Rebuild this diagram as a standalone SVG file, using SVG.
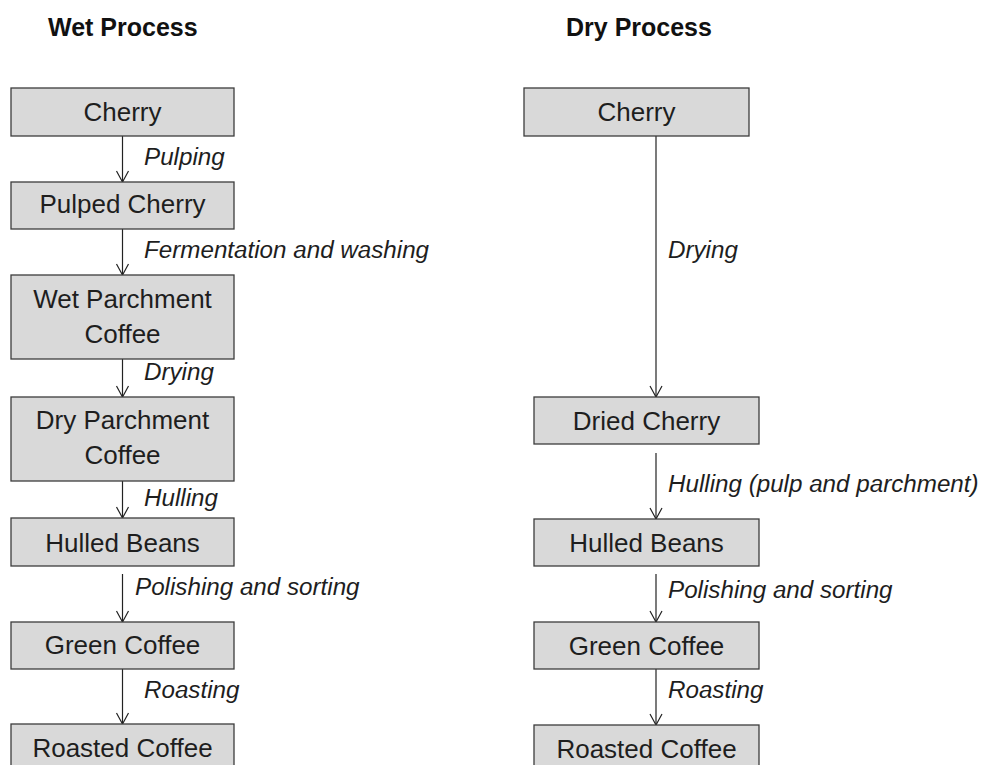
<svg xmlns="http://www.w3.org/2000/svg" width="985" height="765" viewBox="0 0 985 765">
<style>
.box{fill:#d9d9d9;stroke:#3c3c3c;stroke-width:1.3}
.t{font-family:"Liberation Sans",Arial,sans-serif;font-size:26px;fill:#1e1e1e;text-anchor:middle}
.lbl{font-family:"Liberation Sans",Arial,sans-serif;font-size:24.2px;font-style:italic;fill:#1e1e1e}
.title{font-family:"Liberation Sans",Arial,sans-serif;font-size:25px;font-weight:bold;fill:#111}
.c{stroke:#222;stroke-width:1.2;fill:none;marker-end:url(#v)}
</style>
<defs>
<marker id="v" markerUnits="userSpaceOnUse" markerWidth="14" markerHeight="16" viewBox="-12 -8 14 16" refX="0" refY="0" orient="auto">
<path d="M-11,-6 L0,0 L-11,6" fill="none" stroke="#222" stroke-width="1.2"/>
</marker>
</defs>
<rect width="985" height="765" fill="#fff"/>
<text class="title" x="48" y="36">Wet Process</text>
<text class="title" x="566" y="36">Dry Process</text>

<g id="connectors">
<line class="c" x1="122.5" y1="136" x2="122.5" y2="182"/>
<line class="c" x1="122.5" y1="229" x2="122.5" y2="275"/>
<line class="c" x1="122.5" y1="359" x2="122.5" y2="397"/>
<line class="c" x1="122.5" y1="481" x2="122.5" y2="518"/>
<line class="c" x1="122.5" y1="574" x2="122.5" y2="622"/>
<line class="c" x1="122.5" y1="669" x2="122.5" y2="724"/>
<line class="c" x1="656" y1="136" x2="656" y2="397"/>
<line class="c" x1="656" y1="453" x2="656" y2="519"/>
<line class="c" x1="656" y1="574" x2="656" y2="622"/>
<line class="c" x1="656" y1="669" x2="656" y2="725"/>
<text class="lbl" x="144" y="165">Pulping</text>
<text class="lbl" x="144" y="258">Fermentation and washing</text>
<text class="lbl" x="144" y="380">Drying</text>
<text class="lbl" x="144" y="506">Hulling</text>
<text class="lbl" x="135" y="595">Polishing and sorting</text>
<text class="lbl" x="144" y="698">Roasting</text>
<text class="lbl" x="668" y="258">Drying</text>
<text class="lbl" x="668" y="492">Hulling (pulp and parchment)</text>
<text class="lbl" x="668" y="598">Polishing and sorting</text>
<text class="lbl" x="668" y="698">Roasting</text>
</g>

<g id="wet-cherry"><rect class="box" x="11" y="88" width="223" height="48"/><text class="t" x="122.5" y="121">Cherry</text></g>
<g id="wet-pulped"><rect class="box" x="11" y="182" width="223" height="47"/><text class="t" x="122.5" y="213">Pulped Cherry</text></g>
<g id="wet-parchment"><rect class="box" x="11" y="275" width="223" height="84"/><text class="t" x="122.5" y="308">Wet Parchment</text><text class="t" x="122.5" y="343">Coffee</text></g>
<g id="dry-parchment"><rect class="box" x="11" y="397" width="223" height="84"/><text class="t" x="122.5" y="429">Dry Parchment</text><text class="t" x="122.5" y="464">Coffee</text></g>
<g id="wet-hulled"><rect class="box" x="11" y="518" width="223" height="48"/><text class="t" x="122.5" y="552">Hulled Beans</text></g>
<g id="wet-green"><rect class="box" x="11" y="622" width="223" height="47"/><text class="t" x="122.5" y="654">Green Coffee</text></g>
<g id="wet-roasted"><rect class="box" x="11" y="724" width="223" height="48"/><text class="t" x="122.5" y="757">Roasted Coffee</text></g>

<g id="dry-cherry"><rect class="box" x="524" y="88" width="225" height="48"/><text class="t" x="636.5" y="121">Cherry</text></g>
<g id="dry-dried"><rect class="box" x="534" y="397" width="225" height="47"/><text class="t" x="646.5" y="430">Dried Cherry</text></g>
<g id="dry-hulled"><rect class="box" x="534" y="519" width="225" height="47"/><text class="t" x="646.5" y="552">Hulled Beans</text></g>
<g id="dry-green"><rect class="box" x="534" y="622" width="225" height="47"/><text class="t" x="646.5" y="655">Green Coffee</text></g>
<g id="dry-roasted"><rect class="box" x="534" y="725" width="225" height="48"/><text class="t" x="646.5" y="758">Roasted Coffee</text></g>
</svg>
